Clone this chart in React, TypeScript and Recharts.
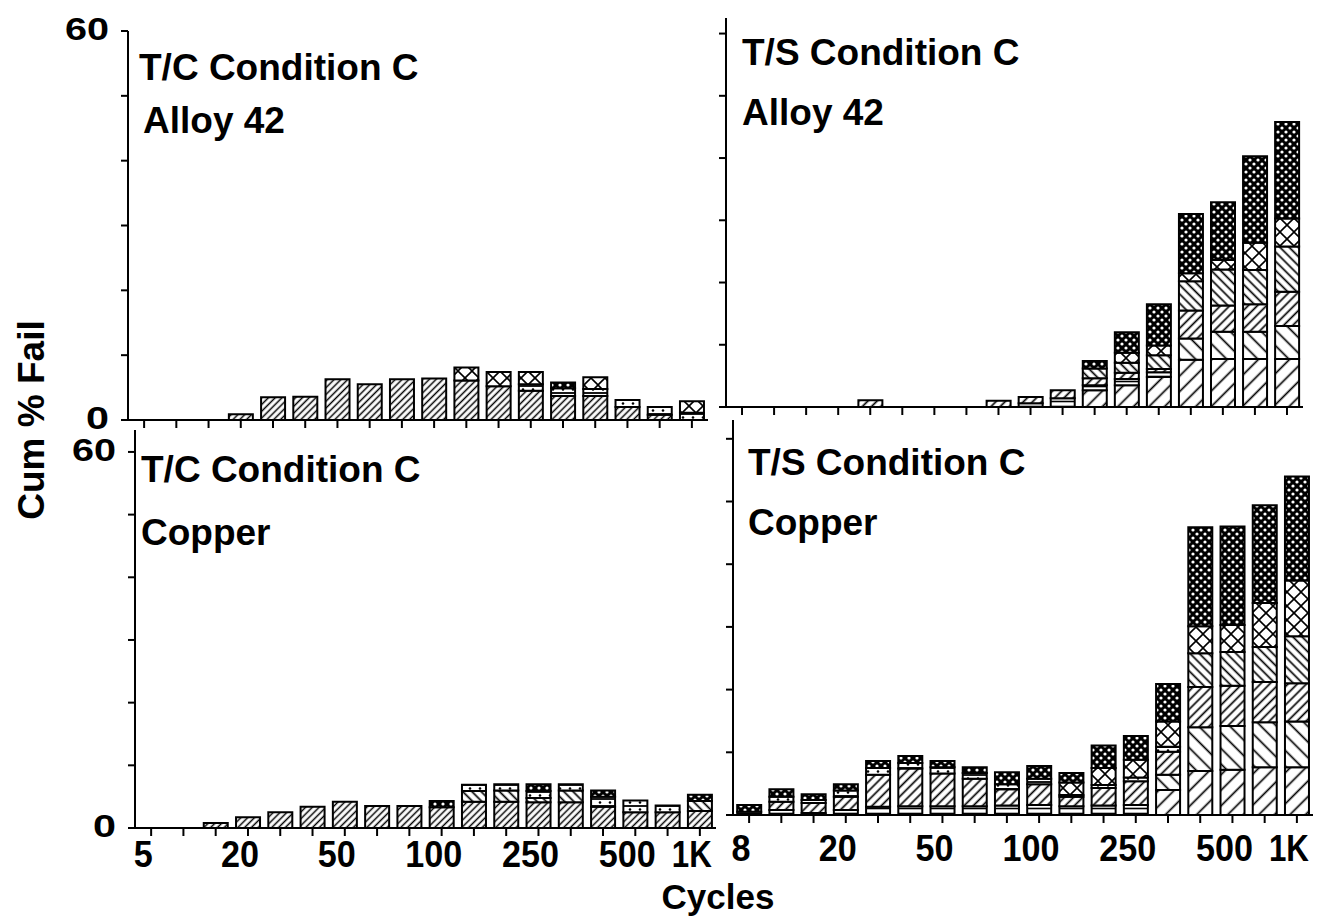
import React from 'react';
import { BarChart, Bar, XAxis, YAxis } from 'recharts';

const FONT = '"Liberation Sans", Arial, Helvetica, sans-serif';

// cycle categories (18 read-outs per panel)
const leftCycles = ['5', '7', '10', '20', '30', '40', '50', '65', '80', '100', '150', '200', '250', '300', '400', '500', '750', '1K'];
const rightCycles = ['8', '10', '15', '20', '30', '40', '50', '65', '80', '100', '150', '200', '250', '300', '400', '500', '750', '1K'];
const leftLabels = ['5', '20', '50', '100', '250', '500', '1K'];
const rightLabels = ['8', '20', '50', '100', '250', '500', '1K'];
const yTicks = [0, 10, 20, 30, 40, 50, 60];

// T/C Condition C, Alloy 42
const tcAlloyD = [0, 0, 0, 0.9, 3.5, 3.6, 6.3, 5.5, 6.3, 6.4, 6.1, 5.2, 4.5, 3.7, 3.7, 2.0, 0.8, 0];
const tcAlloyH = [0, 0, 0, 0, 0, 0, 0, 0, 0, 0, 0, 0, 1.0, 1.2, 1.1, 1.1, 1.2, 1.1];
const tcAlloyF = [0, 0, 0, 0, 0, 0, 0, 0, 0, 0, 2.0, 2.2, 1.9, 0, 1.8, 0, 0, 1.8];
const tcAlloyG = [0, 0, 0, 0, 0, 0, 0, 0, 0, 0, 0, 0, 0, 0.9, 0, 0, 0, 0];

// T/C Condition C, Copper
const tcCopperD = [0, 0, 0.8, 1.7, 2.5, 3.4, 4.2, 3.5, 3.5, 3.3, 4.2, 4.2, 4.1, 4.1, 3.4, 2.5, 2.5, 2.7];
const tcCopperE = [0, 0, 0, 0, 0, 0, 0, 0, 0, 0, 1.7, 1.8, 0.7, 1.9, 0, 0, 0, 1.6];
const tcCopperH = [0, 0, 0, 0, 0, 0, 0, 0, 0, 0, 1.0, 1.0, 1.1, 1.0, 1.6, 1.9, 1.1, 0];
const tcCopperG = [0, 0, 0, 0, 0, 0, 0, 0, 0, 1.0, 0, 0, 1.1, 0, 1.0, 0, 0, 1.0];

// T/S Condition C, Alloy 42
const tsAlloyA = [0, 0, 0, 0, 0, 0, 0, 0, 0, 0, 0, 2.7, 3.5, 4.8, 7.6, 7.7, 7.7, 7.7];
const tsAlloyB = [0, 0, 0, 0, 0, 0, 0, 0, 0, 0.6, 1.4, 0.8, 1.0, 0.8, 0, 0, 0, 0];
const tsAlloyC = [0, 0, 0, 0, 0, 0, 0, 0, 0, 0, 0, 0, 0, 0, 3.4, 4.4, 4.4, 5.3];
const tsAlloyD = [0, 0, 0, 0, 1.1, 0, 0, 0, 1.0, 1.0, 1.3, 1.1, 1.0, 0.5, 4.5, 4.2, 4.4, 5.5];
const tsAlloyE = [0, 0, 0, 0, 0, 0, 0, 0, 0, 0, 0, 1.6, 1.6, 2.2, 4.7, 5.8, 5.5, 7.3];
const tsAlloyF = [0, 0, 0, 0, 0, 0, 0, 0, 0, 0, 0, 0, 1.6, 1.6, 1.3, 1.5, 4.4, 4.5];
const tsAlloyG = [0, 0, 0, 0, 0, 0, 0, 0, 0, 0, 0, 1.2, 3.3, 6.6, 9.5, 9.3, 13.9, 15.5];

// T/S Condition C, Copper
const tsCopperA = [0, 0, 0, 0, 0, 0, 0, 0, 0, 0, 0, 0, 0, 4.0, 7.0, 7.2, 7.6, 7.6];
const tsCopperB = [0.5, 0.8, 0.3, 0.8, 1.3, 1.4, 1.4, 1.4, 1.5, 1.6, 1.4, 1.5, 1.6, 0, 0, 0, 0, 0];
const tsCopperC = [0, 0, 0, 0, 0, 0, 0, 0, 0, 0, 0, 0, 0, 2.4, 7.0, 7.0, 7.2, 7.3];
const tsCopperD = [0, 1.3, 1.6, 2.1, 5.1, 6.0, 5.2, 4.4, 2.6, 3.3, 1.5, 2.8, 3.8, 3.7, 6.4, 6.4, 6.4, 6.1];
const tsCopperE = [0, 0, 0, 0, 0, 0, 0, 0, 0, 0, 0, 0, 0, 0, 5.4, 5.4, 5.6, 7.5];
const tsCopperH = [0, 0.8, 0.5, 1.0, 1.1, 0.9, 1.0, 0.9, 0.8, 0.9, 0.3, 0.5, 0.6, 0.8, 0, 0, 0, 0];
const tsCopperF = [0, 0, 0, 0, 0, 0, 0, 0, 0, 0, 2.0, 2.7, 2.8, 4.0, 4.3, 4.3, 7.0, 8.9];
const tsCopperG = [1.1, 1.2, 0.9, 1.0, 1.1, 1.1, 1.0, 0.9, 1.9, 2.0, 1.5, 3.6, 3.8, 6.0, 15.8, 15.7, 15.6, 16.6];

// stacking order, bottom to top
const ORDER = ['a', 'b', 'c', 'd', 'e', 'h', 'f', 'g'];

const buildRows = (cycles: string[], cols: Record<string, number[]>) =>
  cycles.map((cycle, i) => {
    const row: Record<string, any> = { cycle };
    Object.keys(cols).forEach((k) => (row[k] = cols[k][i]));
    return row;
  });

const Hatch = ({ id, angle, gap, sw }: { id: string; angle: number; gap: number; sw: number }) => (
  <pattern id={id} patternUnits="userSpaceOnUse" width={gap} height={gap} patternTransform={`rotate(${angle})`}>
    <rect width={gap} height={gap} fill="#fff" />
    <line x1={gap / 2} y1={0} x2={gap / 2} y2={gap} stroke="#000" strokeWidth={sw} />
  </pattern>
);

const Patterns = ({ p, dense }: { p: string; dense: boolean }) => (
  <defs>
    <Hatch id={`${p}-a`} angle={45} gap={11} sw={1.7} />
    <Hatch id={`${p}-c`} angle={-45} gap={11} sw={1.7} />
    <Hatch id={`${p}-d`} angle={45} gap={dense ? 4.8 : 6.5} sw={dense ? 1.5 : 1.7} />
    <Hatch id={`${p}-e`} angle={-45} gap={6.5} sw={1.7} />
    <pattern id={`${p}-b`} patternUnits="userSpaceOnUse" width={8} height={5}>
      <rect width={8} height={5} fill="#fff" />
      <line x1={0} y1={2.5} x2={8} y2={2.5} stroke="#000" strokeWidth={1.6} />
    </pattern>
    <pattern id={`${p}-h`} patternUnits="userSpaceOnUse" width={10} height={7}>
      <rect width={10} height={7} fill="#fff" />
      <line x1={0} y1={1} x2={10} y2={1} stroke="#000" strokeWidth={1.8} />
      <circle cx={5} cy={4.5} r={1.3} fill="#000" />
    </pattern>
    <pattern id={`${p}-f`} patternUnits="userSpaceOnUse" width={14} height={14}>
      <rect width={14} height={14} fill="#fff" />
      <line x1={0} y1={0} x2={14} y2={14} stroke="#000" strokeWidth={1.6} />
      <line x1={14} y1={0} x2={0} y2={14} stroke="#000" strokeWidth={1.6} />
    </pattern>
    <pattern id={`${p}-g`} patternUnits="userSpaceOnUse" width={8} height={8}>
      <rect width={8} height={8} fill="#000" />
      <circle cx={2} cy={2} r={1.6} fill="#fff" />
      <circle cx={6} cy={6} r={1.6} fill="#fff" />
    </pattern>
  </defs>
);

type PanelProps = {
  id: string;
  x0: number;
  x1: number;
  y0: number;
  y1: number;
  yMax: number;
  cycles: string[];
  labels: string[] | null;
  labelDy?: number;
  yLabels: boolean;
  dense: boolean;
  cols: Record<string, number[]>;
};

const Panel = ({ id, x0, x1, y0, y1, yMax, cycles, labels, labelDy = 30, yLabels, dense, cols }: PanelProps) => {
  const yw = 90;
  const xh = 70;
  const padTop = 24;
  const padRight = 6;
  const rows = buildRows(cycles, cols);
  const keys = ORDER.filter((k) => cols[k]);
  const line = { stroke: '#000', strokeWidth: 2 };

  const xTick = (props: any) => {
    const v = props.payload.value;
    if (!labels || !labels.includes(v)) return <g />;
    const len = v === '1K' ? 40 : v.length * 19;
    return (
      <text x={props.x - 8} y={props.y} dy={labelDy} textAnchor="middle" fontFamily={FONT} fontWeight="bold"
        fontSize={37} fill="#000" textLength={len} lengthAdjust="spacingAndGlyphs">
        {v}
      </text>
    );
  };

  const yTick = (props: any) => {
    const v = props.payload.value;
    if (!yLabels || (v !== 0 && v !== 60)) return <g />;
    return (
      <text x={props.x - 10} y={props.y} dy={9} textAnchor="end" fontFamily={FONT} fontWeight="bold"
        fontSize={31} fill="#000" textLength={v === 60 ? 44 : 23} lengthAdjust="spacingAndGlyphs">
        {v}
      </text>
    );
  };

  return (
    <div style={{ position: 'absolute', left: x0 - yw, top: y0 - padTop }}>
      <BarChart
        width={x1 - x0 + yw + padRight}
        height={y1 - y0 + padTop + xh}
        data={rows}
        margin={{ top: padTop, right: padRight, left: 0, bottom: 0 }}
        barCategoryGap="13%"
      >
        <Patterns p={id} dense={dense} />
        <XAxis dataKey="cycle" height={xh} interval={0} tickSize={8} tick={xTick} tickLine={line} axisLine={line} />
        <XAxis xAxisId="top" dataKey="cycle" orientation="top" height={0} tick={false} tickLine={false} axisLine={line} />
        <YAxis type="number" width={yw} domain={[0, yMax]} ticks={yTicks} interval={0} tickSize={7}
          tick={yTick} tickLine={line} axisLine={line} allowDataOverflow />
        <YAxis yAxisId="r" type="number" orientation="right" width={0} domain={[0, yMax]} tick={false}
          tickLine={false} axisLine={line} />
        {keys.map((k) => (
          <Bar key={k} dataKey={k} stackId="s" fill={`url(#${id}-${k})`} stroke="#000" strokeWidth={2}
            isAnimationActive={false} />
        ))}
      </BarChart>
    </div>
  );
};

const titles = [
  { x: 139, y: 80, t: 'T/C Condition C' },
  { x: 143, y: 133, t: 'Alloy 42' },
  { x: 742, y: 65, t: 'T/S Condition C' },
  { x: 742, y: 125, t: 'Alloy 42' },
  { x: 141, y: 482, t: 'T/C Condition C' },
  { x: 141, y: 545, t: 'Copper' },
  { x: 748, y: 475, t: 'T/S Condition C' },
  { x: 748, y: 535, t: 'Copper' },
];

export default function App() {
  return (
    <div style={{ position: 'absolute', left: 0, top: 0, width: 1329, height: 918, background: '#fff', overflow: 'hidden' }}>
      <Panel id="tl" x0={128} x1={708} y0={31} y1={420} yMax={60} cycles={leftCycles} labels={null} yLabels dense
        cols={{ d: tcAlloyD, h: tcAlloyH, f: tcAlloyF, g: tcAlloyG }} />
      <Panel id="tr" x0={726} x1={1303} y0={18} y1={407} yMax={62.5} cycles={rightCycles} labels={null} yLabels={false}
        dense={false}
        cols={{ a: tsAlloyA, b: tsAlloyB, c: tsAlloyC, d: tsAlloyD, e: tsAlloyE, f: tsAlloyF, g: tsAlloyG }} />
      <Panel id="bl" x0={135} x1={716} y0={430} y1={828} yMax={63.5} cycles={leftCycles} labels={leftLabels}
        labelDy={29} yLabels dense cols={{ d: tcCopperD, e: tcCopperE, h: tcCopperH, g: tcCopperG }} />
      <Panel id="br" x0={733} x1={1313} y0={420} y1={815} yMax={63} cycles={rightCycles} labels={rightLabels}
        labelDy={36} yLabels={false} dense={false}
        cols={{ a: tsCopperA, b: tsCopperB, c: tsCopperC, d: tsCopperD, e: tsCopperE, h: tsCopperH, f: tsCopperF, g: tsCopperG }} />
      <svg width={1329} height={918} style={{ position: 'absolute', left: 0, top: 0, pointerEvents: 'none' }}>
        {titles.map((d, i) => (
          <text key={i} x={d.x} y={d.y} fontFamily={FONT} fontWeight="bold" fontSize={37} fill="#000">
            {d.t}
          </text>
        ))}
        <text x={44} y={420} transform="rotate(-90 44 420)" textAnchor="middle" fontFamily={FONT} fontWeight="bold"
          fontSize={37} fill="#000">
          Cum % Fail
        </text>
        <text x={718} y={909} textAnchor="middle" fontFamily={FONT} fontWeight="bold" fontSize={35} fill="#000">
          Cycles
        </text>
      </svg>
    </div>
  );
}
